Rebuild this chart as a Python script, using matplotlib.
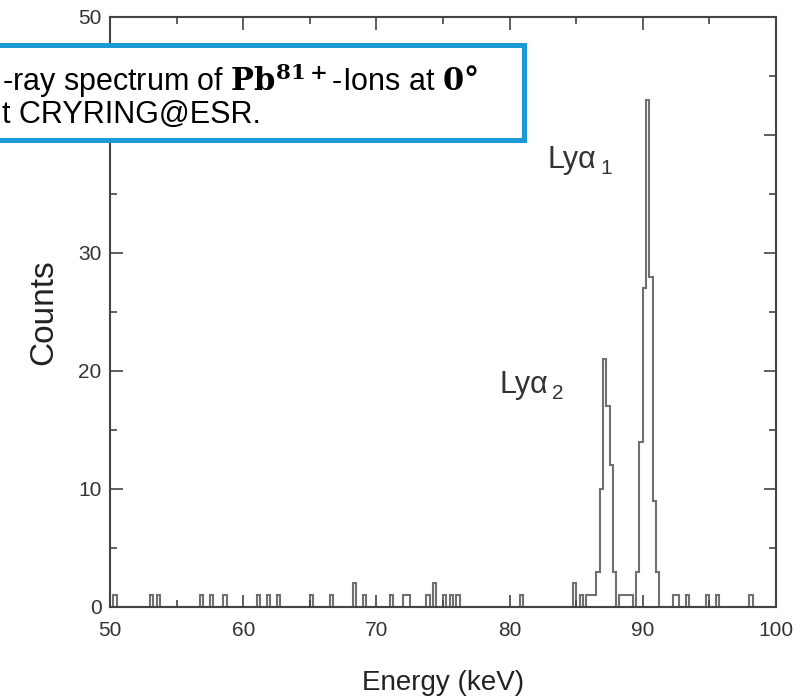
import numpy as np
import matplotlib
matplotlib.use("Agg")
import matplotlib.pyplot as plt
from matplotlib.ticker import MultipleLocator
from matplotlib.patches import Rectangle

# ---------------- data ----------------
bin_width = 0.25
energy_min, energy_max = 50.0, 100.0

# background single counts (bin left edges, keV)
noise_energy = [50.25, 53.0, 53.5, 56.75, 57.5, 58.5, 61.0, 61.75, 62.5, 65.0,
                66.5, 68.25, 69.0, 71.0, 72.0, 72.25, 73.75, 74.25, 75.0, 75.5,
                76.0, 80.75, 84.75, 85.25, 85.75, 86.0, 86.25, 88.25, 88.5, 88.75,
                89.0, 92.25, 92.5, 93.25, 94.75, 95.5, 98.0]
noise_counts = [1, 1, 1, 1, 1, 1, 1, 1, 1, 1,
                1, 2, 1, 1, 1, 1, 1, 2, 1, 1,
                1, 1, 2, 1, 1, 1, 1, 1, 1, 1,
                1, 1, 1, 1, 1, 1, 1]

lya2_energy = [86.5, 86.75, 87.0, 87.25, 87.5, 87.75]
lya2_counts = [3, 10, 21, 17, 12, 3]

lya1_energy = [89.5, 89.75, 90.0, 90.25, 90.5, 90.75, 91.0]
lya1_counts = [3, 14, 27, 43, 28, 9, 3]

x_ticks = [50, 60, 70, 80, 90, 100]
y_ticks = [0, 10, 20, 30, 40, 50]
y_tick_labels = ['0', '10', '20', '30', '', '50']   # "40" is hidden under the caption box

# ---------------- build histogram ----------------
edges = np.arange(energy_min, energy_max + bin_width / 2, bin_width)
counts = np.zeros(len(edges) - 1)
for e_list, c_list in ((noise_energy, noise_counts),
                       (lya2_energy, lya2_counts),
                       (lya1_energy, lya1_counts)):
    for e, c in zip(e_list, c_list):
        counts[int(round((e - energy_min) / bin_width))] = c

# ---------------- figure ----------------
W, H = 811, 699
fig = plt.figure(figsize=(W / 100, H / 100), dpi=100)
plt.rcParams['font.family'] = ['Liberation Sans', 'DejaVu Sans']

L, R, T, B = 110, 776, 17, 607
ax = fig.add_axes([L / W, 1 - B / H, (R - L) / W, (B - T) / H])

ax.stairs(counts, edges, color='#707070', lw=1.5)

ax.set_xlim(energy_min, energy_max)
ax.set_ylim(0, 50)
ax.set_xticks(x_ticks)
ax.set_yticks(y_ticks)
ax.set_yticklabels(y_tick_labels)
ax.xaxis.set_minor_locator(MultipleLocator(5))
ax.yaxis.set_minor_locator(MultipleLocator(5))
ax.tick_params(which='both', direction='in', top=True, right=True,
               color='#444444', width=1.2, labelsize=15, labelcolor='#333333')
ax.tick_params(which='major', length=9)
ax.tick_params(which='minor', length=5)
ax.tick_params(axis='x', which='major', pad=10)
ax.tick_params(axis='y', which='major', pad=6)
for s in ax.spines.values():
    s.set_color('#444444')
    s.set_linewidth(1.5)

ax.set_xlabel('Energy (keV)', fontsize=20, color='#222222', labelpad=22)
ax.set_ylabel('Counts', fontsize=24, color='#222222', labelpad=14)

# peak labels
def peak_label(x, y_base, sub):
    fig.text(x / W, 1 - y_base / H, 'Lyα', fontsize=22, color='#333333',
             va='baseline', ha='left')
    fig.text((x + 52) / W, 1 - (y_base + 6) / H, sub, fontsize=15,
             color='#333333', va='baseline', ha='left')

peak_label(548, 168, '1')
peak_label(500, 393, '2')

# caption box (cut off at left edge)
bx0, bx1, by0, by1 = -20, 524, 45, 140
rect = Rectangle((bx0 / W, 1 - by1 / H), (bx1 - bx0) / W, (by1 - by0) / H,
                 transform=fig.transFigure, facecolor='white',
                 edgecolor='#1b9ad6', lw=3.6, zorder=10)
fig.add_artist(rect)
fig.text(2 / W, 1 - 81 / H,
         r'-ray spectrum of $\mathbf{Pb^{81+}}$-Ions at $\mathbf{0°}$',
         fontsize=22, color='black', va='center', ha='left',
         math_fontfamily='dejavuserif', zorder=11)
fig.text(2 / W, 1 - 115 / H, 't CRYRING@ESR.',
         fontsize=22, color='black', va='center', ha='left', zorder=11)

fig.savefig('out.png', dpi=100)
